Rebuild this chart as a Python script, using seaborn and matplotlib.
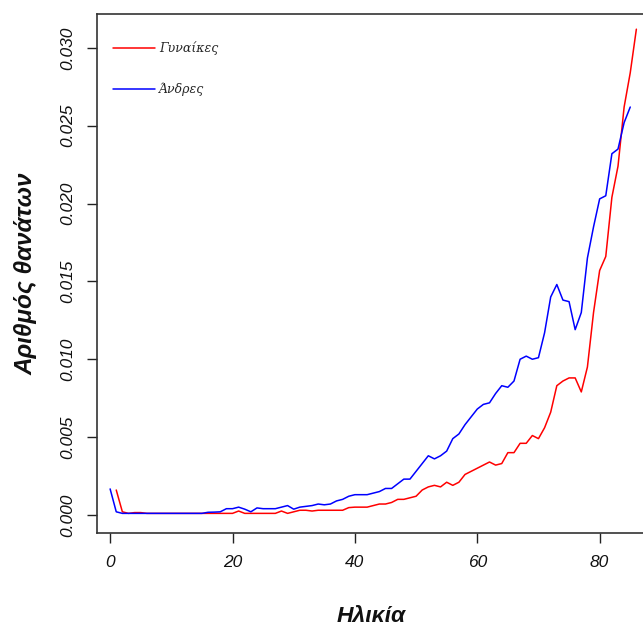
import numpy as np
import pandas as pd
import matplotlib
matplotlib.use("Agg")
import matplotlib.pyplot as plt
import seaborn as sns
from matplotlib.lines import Line2D

# Data
ages_men = list(range(0, 86))
men = [0.00167, 0.0002, 0.0001, 0.0001, 0.0001, 0.0001, 0.0001, 0.0001, 0.0001, 0.0001,
       0.0001, 0.0001, 0.0001, 0.0001, 0.0001, 0.0001, 0.00017, 0.00018, 0.0002, 0.0004,
       0.0004, 0.0005, 0.00037, 0.0002, 0.00045, 0.0004, 0.0004, 0.0004, 0.0005, 0.0006,
       0.00037, 0.0005, 0.00055, 0.0006, 0.0007, 0.00065, 0.0007, 0.0009, 0.0010, 0.0012,
       0.0013, 0.0013, 0.0013, 0.0014, 0.0015, 0.0017, 0.0017, 0.0020, 0.0023, 0.0023,
       0.0028, 0.0033, 0.0038, 0.0036, 0.0038, 0.0041, 0.0049, 0.0052, 0.0058, 0.0063,
       0.0068, 0.0071, 0.0072, 0.0078, 0.0083, 0.0082, 0.0086, 0.0100, 0.0102, 0.0100,
       0.0101, 0.0117, 0.0140, 0.0148, 0.0138, 0.0137, 0.0119, 0.0130, 0.0165, 0.0185,
       0.0203, 0.0205, 0.0232, 0.0235, 0.0252, 0.0262]

ages_women = list(range(1, 87))
women = [0.0016, 0.0002, 0.0001, 0.00015, 0.00015, 0.0001, 0.0001, 0.0001, 0.0001, 0.0001,
         0.0001, 0.0001, 0.0001, 0.0001, 0.0001, 0.0001, 0.0001, 0.0001, 0.0001, 0.0001,
         0.00025, 0.0001, 0.0001, 0.0001, 0.0001, 0.0001, 0.0001, 0.00025, 0.0001, 0.0002,
         0.0003, 0.0003, 0.00025, 0.0003, 0.0003, 0.0003, 0.0003, 0.0003, 0.00047, 0.0005,
         0.0005, 0.0005, 0.0006, 0.0007, 0.0007, 0.0008, 0.0010, 0.0010, 0.0011, 0.0012,
         0.0016, 0.0018, 0.0019, 0.0018, 0.0021, 0.0019, 0.0021, 0.0026, 0.0028, 0.0030,
         0.0032, 0.0034, 0.0032, 0.0033, 0.0040, 0.0040, 0.0046, 0.0046, 0.0051, 0.0049,
         0.0056, 0.0066, 0.0083, 0.0086, 0.0088, 0.0088, 0.0079, 0.0095, 0.0130, 0.0157,
         0.0166, 0.0204, 0.0224, 0.0262, 0.0284, 0.0312]

labels = ["Γυναίκες", "Άνδρες"]
colors = ["#ff0000", "#0000ff"]
xticks = [0, 20, 40, 60, 80]
yticks = [0.000, 0.005, 0.010, 0.015, 0.020, 0.025, 0.030]

df = pd.concat([
    pd.DataFrame({"age": ages_women, "val": women, "sex": labels[0]}),
    pd.DataFrame({"age": ages_men, "val": men, "sex": labels[1]}),
])

sns.set_style("white")
plt.rcParams["font.family"] = ["Liberation Sans", "DejaVu Sans"]

fig = plt.figure(figsize=(6.43, 6.33), dpi=100)
ax = fig.add_axes([0.151, 0.158, 0.852, 0.820])

sns.lineplot(data=df, x="age", y="val", hue="sex", palette=dict(zip(labels, colors)),
             linewidth=1.1, ax=ax, legend=False, estimator=None, sort=True)

ax.set_xlim(-2.13, 87.4)
ax.set_ylim(-0.00116, 0.03218)
ax.set_xticks(xticks)
ax.set_yticks(yticks)
ax.set_xticklabels([str(t) for t in xticks], fontstyle="italic", fontsize=12.5, color="#111111")
ax.set_yticklabels([f"{t:.3f}" for t in yticks], fontstyle="italic", fontsize=12.5,
                   rotation=90, va="center", color="#111111")
ax.tick_params(axis="both", direction="out", length=7, width=1, color="#222222",
               bottom=True, left=True)
ax.tick_params(axis="x", pad=9)
ax.tick_params(axis="y", pad=9)

for s in ["left", "bottom", "top"]:
    ax.spines[s].set_visible(True)
    ax.spines[s].set_color("#333333")
    ax.spines[s].set_linewidth(1.2)
ax.spines["right"].set_visible(False)

ax.set_xlabel("Ηλικία", fontsize=16.5, fontweight="bold", fontstyle="italic", labelpad=24,
              color="#111111")
ax.set_ylabel("Αριθμός θανάτων", fontsize=17.5, fontweight="bold", fontstyle="italic",
              labelpad=16, color="#111111")

handles = [Line2D([0], [0], color=c, lw=1.1) for c in colors]
leg = ax.legend(handles, labels, loc="upper left", bbox_to_anchor=(0.0, 0.978), frameon=False,
                prop={"family": "DejaVu Serif", "style": "italic", "size": 9},
                labelspacing=2.2, handlelength=3.3, handletextpad=0.35, borderaxespad=0.9)

fig.savefig("out.png", dpi=100)
